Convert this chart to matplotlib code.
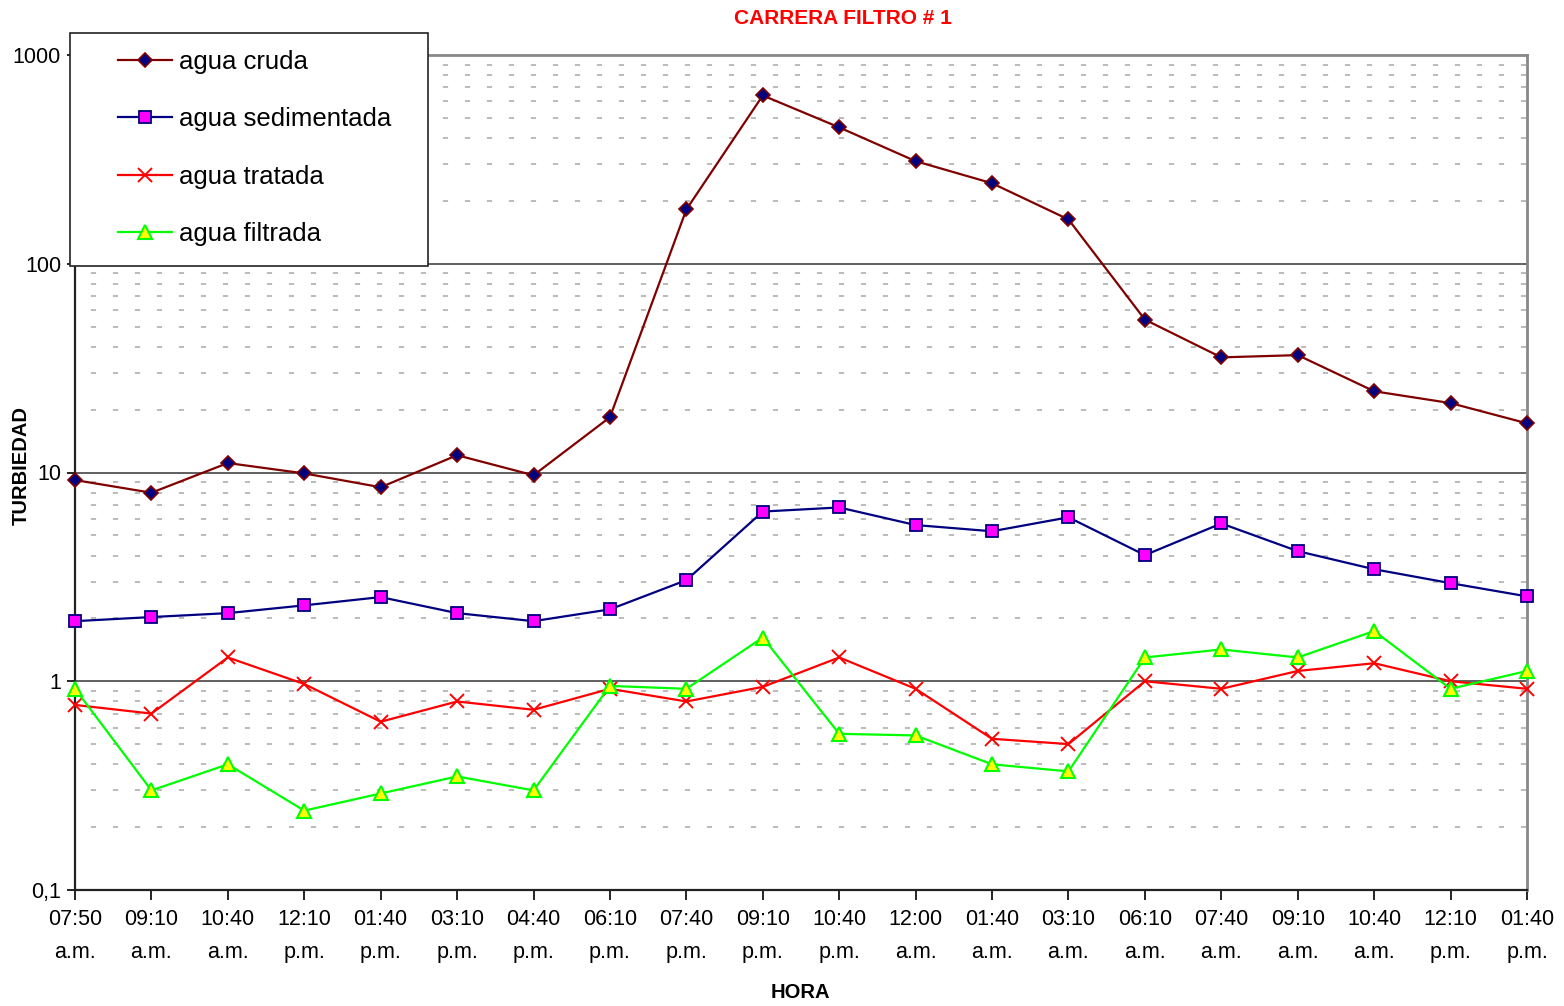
import matplotlib
matplotlib.use("Agg")
import matplotlib.pyplot as plt
from matplotlib.patches import Rectangle
from matplotlib.ticker import FixedLocator, FixedFormatter, NullLocator
import numpy as np

plt.rcParams['font.family'] = ['Liberation Sans', 'DejaVu Sans']

hora = ["07:50", "09:10", "10:40", "12:10", "01:40", "03:10", "04:40", "06:10",
        "07:40", "09:10", "10:40", "12:00", "01:40", "03:10", "06:10", "07:40",
        "09:10", "10:40", "12:10", "01:40"]
periodo = ["a.m.", "a.m.", "a.m.", "p.m.", "p.m.", "p.m.", "p.m.", "p.m.",
           "p.m.", "p.m.", "p.m.", "a.m.", "a.m.", "a.m.", "a.m.", "a.m.",
           "a.m.", "a.m.", "p.m.", "p.m."]

agua_cruda = [9.2, 8.0, 11.1, 9.9, 8.5, 12.1, 9.7, 18.4, 182, 640, 450, 310,
              243, 163, 54, 35.6, 36.5, 24.5, 21.5, 17.2]
agua_sedimentada = [1.94, 2.03, 2.12, 2.31, 2.53, 2.12, 1.94, 2.21, 3.05, 6.5,
                    6.8, 5.6, 5.23, 6.1, 4.02, 5.7, 4.2, 3.44, 2.95, 2.55]
agua_tratada = [0.77, 0.70, 1.30, 0.97, 0.64, 0.80, 0.73, 0.92, 0.80, 0.94,
                1.30, 0.92, 0.53, 0.50, 1.0, 0.92, 1.12, 1.22, 1.0, 0.92]
agua_filtrada = [0.92, 0.30, 0.40, 0.24, 0.29, 0.35, 0.30, 0.95, 0.92, 1.62,
                 0.56, 0.55, 0.40, 0.37, 1.30, 1.42, 1.30, 1.74, 0.92, 1.12]

y_ticks = [0.1, 1, 10, 100, 1000]
y_labels = ["0,1", "1", "10", "100", "1000"]

W, H = 1564, 1006
fig = plt.figure(figsize=(W / 100, H / 100), dpi=100)
ax = fig.add_axes([75 / W, 1 - 890 / H, (1527 - 75) / W, (890 - 55) / H])

x = np.arange(len(hora))
h1, = ax.plot(x, agua_cruda, color='#800000', lw=1.6, marker='D', ms=7,
              mfc='#000080', mec='#800000', mew=1.2, zorder=5, clip_on=False)
h2, = ax.plot(x, agua_sedimentada, color='#000080', lw=1.6, marker='s', ms=8,
              mfc='#FF00FF', mec='#000080', mew=1.3, zorder=5, clip_on=False)
h3, = ax.plot(x, agua_tratada, color='#FF0000', lw=1.6, marker='x', ms=9.5,
              mec='#FF0000', mew=1.4, zorder=5, clip_on=False)
h4, = ax.plot(x, agua_filtrada, color='#00FF00', lw=1.6, marker='^', ms=10,
              mfc='#FFFF00', mec='#00FF00', mew=1.5, zorder=5, clip_on=False)

ax.set_yscale('log')
ax.set_ylim(0.1, 1000)
ax.set_xlim(0, len(hora) - 1)

ax.yaxis.set_major_locator(FixedLocator(y_ticks))
ax.yaxis.set_major_formatter(FixedFormatter(y_labels))
ax.yaxis.set_minor_locator(NullLocator())

# gridlines
for d in [0.1, 1, 10, 100]:
    for m in range(2, 10):
        ax.axhline(d * m, color='#a8a8a8', lw=1.1, ls=(4, (3.4, 11.0)), zorder=1)
for d in [1, 10, 100]:
    ax.axhline(d, color='#444444', lw=1.2, zorder=2)

ax.set_xticks(x)
ax.set_xticklabels([f"{a}\n{b}" for a, b in zip(hora, periodo)], linespacing=1.75)
ax.tick_params(axis='x', direction='out', length=7, width=1.2, pad=7,
               labelsize=15.5, colors='black')
ax.tick_params(axis='y', direction='out', length=6, width=1.2, pad=4,
               labelsize=15.5)

ax.spines['top'].set_color('#888888')
ax.spines['top'].set_linewidth(2.0)
ax.spines['right'].set_color('#888888')
ax.spines['right'].set_linewidth(2.0)
ax.spines['left'].set_color('#222222')
ax.spines['left'].set_linewidth(1.6)
ax.spines['bottom'].set_color('#222222')
ax.spines['bottom'].set_linewidth(1.6)

fig.text(843 / W, 1 - 19 / H, "CARRERA FILTRO # 1", color='#FF0000',
         fontsize=15, fontweight='bold', ha='center', va='center')
fig.text(800 / W, 1 - 992 / H, "HORA", fontsize=14.5, fontweight='bold',
         ha='center', va='center')
fig.text(21 / W, 1 - 465 / H, "TURBIEDAD", fontsize=14.5, fontweight='bold',
         ha='center', va='center', rotation=90)

# legend frame
rect = Rectangle((70 / W, 1 - 266 / H), 358 / W, 233 / H, transform=fig.transFigure,
                 facecolor='white', edgecolor='#222222', lw=1.2, zorder=3)
fig.patches.append(rect)

leg = fig.legend([h1, h2, h3, h4],
                 ["agua cruda", "agua sedimentada", "agua tratada", "agua filtrada"],
                 loc='upper left', bbox_to_anchor=(118 / W, 1 - 50 / H),
                 frameon=False, borderpad=0, borderaxespad=0,
                 handlelength=2.1, handletextpad=0.28, labelspacing=1.3,
                 fontsize=18.5)
leg.set_zorder(5)

fig.savefig("out.png", dpi=100)
